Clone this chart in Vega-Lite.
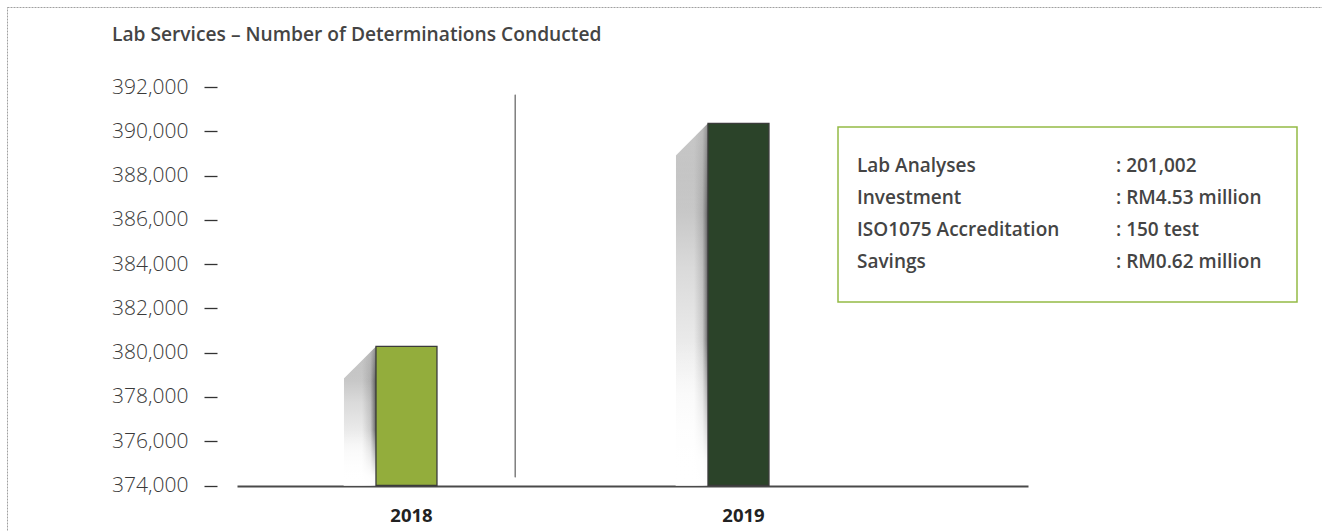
{
  "$schema": "https://vega.github.io/schema/vega-lite/v6.json",
  "width": 1320,
  "height": 530,
  "autosize": {"type": "none"},
  "padding": {"left": 7, "top": 7, "right": 0, "bottom": 0},
  "config": {
    "view": {"stroke": "#a0a0a0", "strokeDash": [2, 1], "strokeWidth": 1},
    "font": "Open Sans"
  },
  "title": {
    "text": "Lab Services – Number of Determinations Conducted",
    "orient": "top",
    "anchor": "start",
    "frame": "group",
    "offset": -53,
    "dx": 105,
    "baseline": "alphabetic",
    "font": "Open Sans",
    "fontSize": 19.2,
    "fontWeight": 600,
    "color": "#444444"
  },
  "datasets": {
    "bars": [
      {"year": "2018", "determinations": 380280},
      {"year": "2019", "determinations": 390360}
    ],
    "info": [
      {"metric": "Lab Analyses", "figure": ": 201,002"},
      {"metric": "Investment", "figure": ": RM4.53 million"},
      {"metric": "ISO1075 Accreditation", "figure": ": 150 test"},
      {"metric": "Savings", "figure": ": RM0.62 million"}
    ],
    "frame": [{"box": "summary"}]
  },
  "resolve": {"scale": {"x": "independent", "y": "independent", "color": "independent"}},
  "layer": [
    {
      "data": {"name": "bars"},
      "encoding": {
        "x": {
          "field": "year",
          "type": "nominal",
          "scale": {"domain": ["2018", "2019"], "range": [230, 1021], "paddingInner": 0.8163, "paddingOuter": 0.5994, "align": 0.3492},
          "axis": {
            "orient": "bottom",
            "offset": -51,
            "title": null,
            "labelAngle": 0,
            "domainColor": "#4a4a4a",
            "domainWidth": 2,
            "ticks": false,
            "tickSize": 0,
            "labelPadding": 20,
            "labelOffset": 5,
            "labelFont": "Open Sans",
            "labelFontSize": 18.5,
            "labelFontWeight": "bold",
            "labelColor": "#222222"
          }
        },
        "y": {
          "field": "determinations",
          "type": "quantitative",
          "scale": {"domain": [374000, 392000], "range": [478.5, 80], "nice": false, "zero": false},
          "axis": {
            "orient": "left",
            "offset": -210,
            "title": null,
            "values": [374000, 376000, 378000, 380000, 382000, 384000, 386000, 388000, 390000, 392000],
            "format": ",d",
            "domain": false,
            "grid": false,
            "tickSize": 13,
            "tickColor": "#333333",
            "tickWidth": 1.3,
            "labelPadding": 16,
            "labelFont": "Open Sans",
            "labelFontSize": 21,
            "labelFontWeight": 300,
            "labelColor": "#3a3a3a"
          }
        }
      },
      "layer": [
        {
          "mark": {
            "type": "bar",
            "width": 32,
            "xOffset": -46.5,
            "color": {
              "gradient": "linear", "x1": 0, "y1": 0, "x2": 0, "y2": 1,
              "stops": [
                {"offset": 0, "color": "#aaaaaa"},
                {"offset": 0.4, "color": "#dadada"},
                {"offset": 0.75, "color": "#f6f6f6"},
                {"offset": 1, "color": "#ffffff"}
              ]
            }
          },
          "encoding": {"y2": {"datum": 374000}}
        },
        {
          "mark": {
            "type": "bar",
            "width": 14,
            "xOffset": -37.5,
            "color": {
              "gradient": "linear", "x1": 0, "y1": 0, "x2": 1, "y2": 0,
              "stops": [
                {"offset": 0, "color": "rgba(80,80,80,0)"},
                {"offset": 0.6, "color": "rgba(80,80,80,0.2)"},
                {"offset": 1, "color": "rgba(55,55,55,0.75)"}
              ]
            }
          },
          "encoding": {"y2": {"datum": 374000}}
        },
        {
          "mark": {
            "type": "bar",
            "width": 33,
            "xOffset": -46.5,
            "color": {
              "gradient": "linear", "x1": 0, "y1": 0, "x2": 0, "y2": 1,
              "stops": [
                {"offset": 0, "color": "rgba(255,255,255,0.35)"},
                {"offset": 0.25, "color": "rgba(255,255,255,0)"},
                {"offset": 0.6, "color": "rgba(255,255,255,0)"},
                {"offset": 0.93, "color": "rgba(255,255,255,0.95)"},
                {"offset": 1, "color": "rgba(255,255,255,1)"}
              ]
            }
          },
          "encoding": {"y2": {"datum": 374000}}
        },
        {
          "mark": {
            "type": "point",
            "shape": "M-1.1,-1.12L1.0,-1.12L1.0,-1L-1.1,1.1Z",
            "size": 1024,
            "filled": true,
            "fill": "#ffffff",
            "strokeWidth": 0,
            "opacity": 1,
            "xOffset": -46.5,
            "yOffset": 16
          }
        },
        {
          "mark": {"type": "bar", "stroke": "#3b3b3b", "strokeWidth": 1.3},
          "encoding": {
            "y2": {"datum": 374000},
            "color": {
              "field": "year",
              "type": "nominal",
              "scale": {"domain": ["2018", "2019"], "range": ["#93ad3c", "#2b4329"]},
              "legend": null
            }
          }
        },
        {
          "mark": {"type": "rule", "color": "#808080", "strokeWidth": 1.2},
          "encoding": {
            "x": {"datum": "2018", "bandPosition": 2.284},
            "y": {"datum": 391650},
            "y2": {"datum": 374370}
          }
        }
      ]
    },
    {
      "data": {"name": "frame"},
      "mark": {"type": "rect", "fill": "#ffffff", "stroke": "#94ba45", "strokeWidth": 1.5},
      "encoding": {
        "x": {"datum": 0, "type": "quantitative", "scale": {"domain": [0, 1], "range": [831, 1290], "nice": false, "zero": false}, "axis": null},
        "x2": {"datum": 1},
        "y": {"datum": 0, "type": "quantitative", "scale": {"domain": [0, 1], "range": [120, 295], "nice": false, "zero": false}, "axis": null},
        "y2": {"datum": 1}
      }
    },
    {
      "data": {"name": "info"},
      "transform": [{"fold": ["metric", "figure"], "as": ["column", "label"]}],
      "mark": {"type": "text", "align": "left", "baseline": "middle", "font": "Open Sans", "fontSize": 19, "fontWeight": 600, "color": "#444444"},
      "encoding": {
        "x": {"field": "column", "type": "nominal", "scale": {"type": "point", "domain": ["metric", "figure"], "range": [850, 1109], "padding": 0}, "axis": null},
        "y": {"field": "metric", "type": "nominal", "scale": {"type": "point", "domain": ["Lab Analyses", "Investment", "ISO1075 Accreditation", "Savings"], "range": [159, 255], "padding": 0}, "axis": null},
        "text": {"field": "label", "type": "nominal"}
      }
    }
  ]
}
